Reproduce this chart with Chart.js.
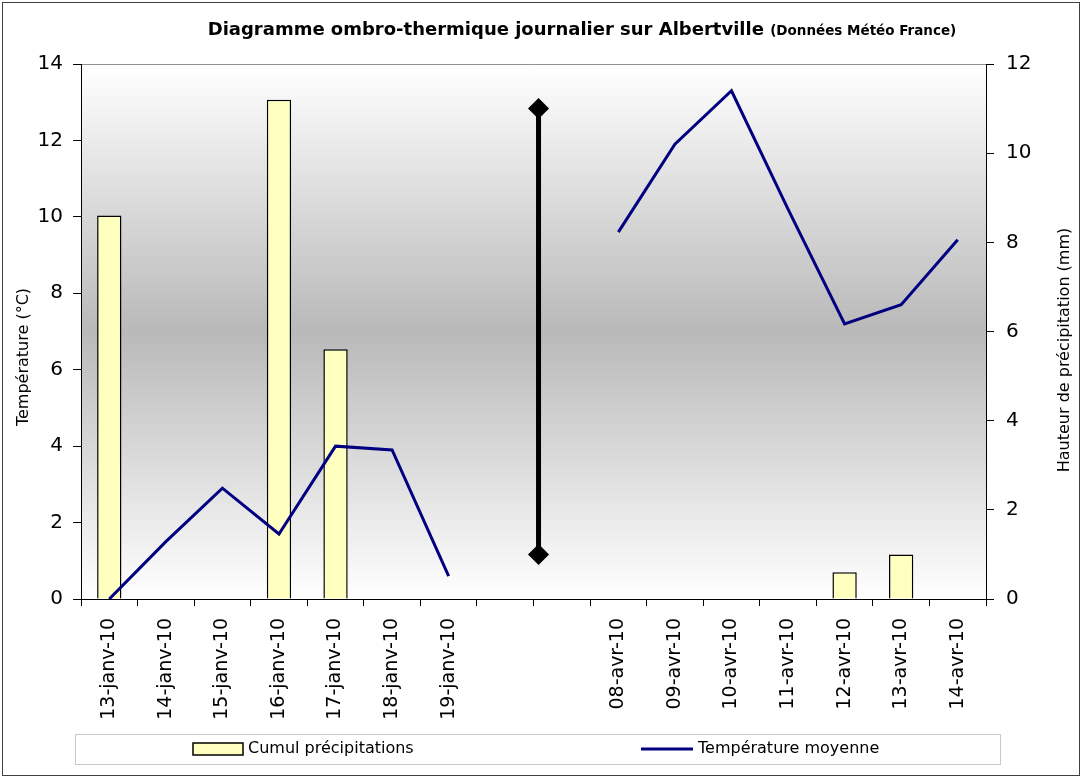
<!DOCTYPE html>
<html>

<head>
    <title>Diagramme ombro-thermique</title>
    <meta charset="utf-8">
    <script src="https://cdn.jsdelivr.net/npm/chart.js@4.4.0/dist/chart.umd.min.js"></script>
    <style>
        body { margin: 0; background: #fff; }
        #wrap { width: 1082px; height: 777px; }
    </style>
    <script>
        // values
        var categories = ['13-janv-10', '14-janv-10', '15-janv-10', '16-janv-10', '17-janv-10', '18-janv-10', '19-janv-10', '', '',
            '08-avr-10', '09-avr-10', '10-avr-10', '11-avr-10', '12-avr-10', '13-avr-10', '14-avr-10'];
        var precipitation = [8.6, 0, 0, 11.2, 5.6, 0, 0, null, null, 0, 0, 0, 0, 0.6, 1.0, 0];
        var temperature = [0.0, 1.5, 2.9, 1.7, 4.0, 3.9, 0.6, null, null, 9.6, 11.9, 13.3, 10.2, 7.2, 7.7, 9.4];
        // black separator between the two periods (precipitation axis)
        var separatorX = [7.6, 7.6];
        var separatorY = [11, 1];

        var FONT = "'DejaVu Sans'";

        var decor = {
            id: 'decor',
            beforeDraw: function(chart) {
                var ctx = chart.ctx, a = chart.chartArea;
                ctx.save();
                ctx.fillStyle = '#fff';
                ctx.fillRect(0, 0, chart.width, chart.height);
                var g = ctx.createLinearGradient(0, a.top, 0, a.bottom);
                g.addColorStop(0, '#ffffff');
                g.addColorStop(0.5, '#b9b9b9');
                g.addColorStop(1, '#ffffff');
                ctx.fillStyle = g;
                ctx.fillRect(a.left, a.top, a.right - a.left, a.bottom - a.top);
                ctx.strokeStyle = '#909090';
                ctx.lineWidth = 1;
                ctx.beginPath();
                ctx.moveTo(a.left, a.top + 0.5);
                ctx.lineTo(a.right, a.top + 0.5);
                ctx.stroke();
                ctx.restore();
            },
            afterDraw: function(chart) {
                var ctx = chart.ctx;
                ctx.save();
                // outer frame
                ctx.strokeStyle = '#404040';
                ctx.lineWidth = 1;
                ctx.strokeRect(2.5, 2.5, 1077, 773);

                // title in two sizes
                var t1 = 'Diagramme ombro-thermique journalier sur Albertville ';
                var t2 = '(Données Météo France)';
                ctx.fillStyle = '#000';
                ctx.textBaseline = 'alphabetic';
                ctx.font = 'bold 18px ' + FONT;
                var w1 = ctx.measureText(t1).width;
                ctx.font = 'bold 13.5px ' + FONT;
                var w2 = ctx.measureText(t2).width;
                var x0 = 582 - (w1 + w2) / 2;
                ctx.font = 'bold 18px ' + FONT;
                ctx.textAlign = 'left';
                ctx.fillText(t1, x0, 35);
                ctx.font = 'bold 13.5px ' + FONT;
                ctx.fillText(t2, x0 + w1, 35);

                // axis titles, both reading upwards
                ctx.font = '16px ' + FONT;
                ctx.textAlign = 'center';
                ctx.textBaseline = 'middle';
                ctx.save();
                ctx.translate(24, 357);
                ctx.rotate(-Math.PI / 2);
                ctx.fillText('Température (°C)', 0, 0);
                ctx.restore();
                ctx.save();
                ctx.translate(1065, 350);
                ctx.rotate(-Math.PI / 2);
                ctx.fillText('Hauteur de précipitation (mm)', 0, 0);
                ctx.restore();

                // legend box
                ctx.strokeStyle = '#c8c8c8';
                ctx.strokeRect(75.5, 734.5, 925, 30);
                ctx.fillStyle = '#ffffc0';
                ctx.fillRect(193, 743, 50, 12);
                ctx.strokeStyle = '#000';
                ctx.lineWidth = 1.5;
                ctx.strokeRect(193, 743, 50, 12);
                ctx.strokeStyle = '#000080';
                ctx.lineWidth = 3;
                ctx.beginPath();
                ctx.moveTo(641, 749);
                ctx.lineTo(693, 749);
                ctx.stroke();
                ctx.fillStyle = '#000';
                ctx.font = '16px ' + FONT;
                ctx.textAlign = 'left';
                ctx.fillText('Cumul précipitations', 248, 749);
                ctx.fillText('Température moyenne', 698, 749);
                ctx.restore();
            }
        };

        function LoadChart() {
            var ctx = document.getElementById('myChart');
            return new Chart(ctx, {
                type: 'bar',
                plugins: [decor],
                data: {
                    labels: categories,
                    datasets: [{
                        type: 'line',
                        label: 'Séparation',
                        data: separatorX.map(function(x, i) { return { x: x, y: separatorY[i] }; }),
                        xAxisID: 'xm',
                        yAxisID: 'yP',
                        borderColor: '#000',
                        borderWidth: 5,
                        pointStyle: 'rectRot',
                        pointRadius: 7,
                        pointBackgroundColor: '#000',
                        pointBorderColor: '#000',
                        order: 0
                    }, {
                        type: 'line',
                        label: 'Température moyenne',
                        data: temperature,
                        xAxisID: 'x',
                        yAxisID: 'yT',
                        borderColor: '#000080',
                        borderWidth: 3,
                        pointRadius: 0,
                        tension: 0,
                        spanGaps: false,
                        order: 1
                    }, {
                        type: 'bar',
                        label: 'Cumul précipitations',
                        data: precipitation,
                        xAxisID: 'x',
                        yAxisID: 'yP',
                        backgroundColor: '#ffffc0',
                        borderColor: '#000',
                        borderWidth: 1.5,
                        grouped: false,
                        categoryPercentage: 1,
                        barPercentage: 0.43,
                        order: 2
                    }]
                },
                options: {
                    responsive: false,
                    animation: false,
                    layout: { padding: { top: 64, left: 0, right: 0, bottom: 0 } },
                    plugins: {
                        legend: { display: false },
                        tooltip: { enabled: false },
                        title: { display: false }
                    },
                    scales: {
                        x: {
                            type: 'category',
                            offset: true,
                            grid: { offset: true, drawOnChartArea: false, tickLength: 7, color: '#000' },
                            border: { color: '#000' },
                            ticks: {
                                color: '#000',
                                font: { family: FONT, size: 19 },
                                minRotation: 90,
                                maxRotation: 90,
                                padding: 12,
                                autoSkip: false
                            },
                            afterFit: function(s) { s.height = 178; }
                        },
                        xm: {
                            type: 'linear',
                            display: false,
                            min: -0.5,
                            max: 15.5
                        },
                        yT: {
                            position: 'left',
                            min: 0,
                            max: 14,
                            ticks: { stepSize: 2, color: '#000', padding: 10, font: { family: FONT, size: 20 } },
                            grid: { drawOnChartArea: false, tickLength: 8, color: '#000' },
                            border: { color: '#000' },
                            afterFit: function(s) { s.width = 81; }
                        },
                        yP: {
                            position: 'right',
                            min: 0,
                            max: 12,
                            ticks: { stepSize: 2, color: '#000', padding: 12, font: { family: FONT, size: 20 } },
                            grid: { drawOnChartArea: false, tickLength: 8, color: '#000' },
                            border: { color: '#000' },
                            afterFit: function(s) { s.width = 96; }
                        }
                    }
                }
            });
        }
    </script>
</head>

<body>
    <div id="wrap"><canvas id="myChart" width="1082" height="777"></canvas></div>
    <script>
        var chart = LoadChart()
    </script>
</body>

</html>
